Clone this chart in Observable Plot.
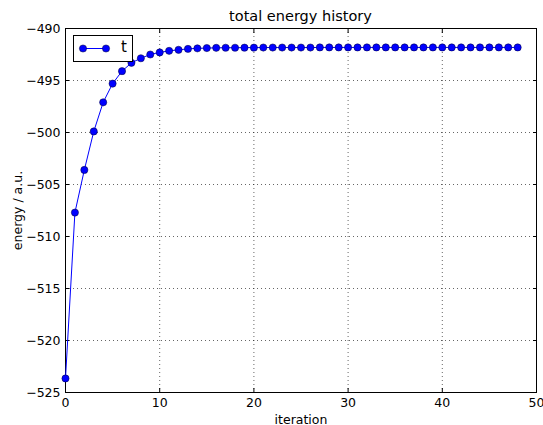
<!DOCTYPE html>
<html>
<head>
<meta charset="utf-8">
<script src="https://cdn.jsdelivr.net/npm/d3@7"></script>
<script src="https://cdn.jsdelivr.net/npm/@observablehq/plot@0.6"></script>
<style>
  html, body { margin: 0; padding: 0; background: #fff; }
  body { width: 543px; height: 425px; position: relative; overflow: hidden; font-family: "DejaVu Sans", sans-serif; }
  #title { position: absolute; left: 65px; width: 471px; top: 8px; text-align: center; font-size: 14.5px; color: #000; }
  #chart { position: absolute; left: 0; top: 20px; }
  #legend { position: absolute; left: 73px; top: 35px; width: 58px; height: 25px; border: 1px solid #000; background: #fff; box-sizing: content-box; }
  #legend svg { position: absolute; left: 0; top: 0; }
  #legend span { position: absolute; left: 47px; top: 2px; font-size: 15px; }
</style>
</head>
<body>
<div id="title">total energy history</div>
<div id="chart"></div>
<div id="legend">
  <svg width="40" height="25"><line x1="9" y1="12.5" x2="32" y2="12.5" stroke="#0000ff" stroke-width="1"/><circle cx="9" cy="12.5" r="3.6" fill="#0000ff" stroke="#000033" stroke-width="0.5"/><circle cx="32" cy="12.5" r="3.6" fill="#0000ff" stroke="#000033" stroke-width="0.5"/></svg>
  <span>t</span>
</div>
<script>
const iterations = d3.range(0, 49);
const energy = [
  -523.65, -507.7, -503.6, -499.9, -497.1, -495.3, -494.1, -493.3, -492.86, -492.5,
  -492.3, -492.15, -492.05, -491.96, -491.91, -491.88, -491.86, -491.85, -491.85, -491.84,
  -491.84, -491.83, -491.83, -491.83, -491.83, -491.83, -491.83, -491.82, -491.82, -491.82,
  -491.82, -491.82, -491.82, -491.82, -491.82, -491.82, -491.82, -491.82, -491.82, -491.82,
  -491.82, -491.82, -491.82, -491.82, -491.82, -491.82, -491.82, -491.82, -491.82
];
const xTicks = [0, 10, 20, 30, 40, 50];
const yTicks = [-525, -520, -515, -510, -505, -500, -495, -490];

const data = iterations.map((it, i) => ({iteration: it, energy: energy[i]}));
const blank = () => "";

const plot = Plot.plot({
  width: 543,
  height: 405,
  marginLeft: 65,
  marginRight: 7,
  marginTop: 8,
  marginBottom: 33,
  style: {fontFamily: "DejaVu Sans, sans-serif", fontSize: "12.5px", color: "#000", background: "transparent", overflow: "visible"},
  x: {domain: [0, 50]},
  y: {domain: [-525, -490]},
  marks: [
    Plot.gridX(xTicks.slice(1, -1), {stroke: "#000", strokeOpacity: 0.6, strokeDasharray: "1,3"}),
    Plot.gridY(yTicks.slice(1, -1), {stroke: "#000", strokeOpacity: 0.6, strokeDasharray: "1,3"}),
    Plot.axisX(xTicks, {anchor: "bottom", tickSize: -4, tickPadding: 10, label: "iteration", labelAnchor: "center", labelArrow: "none", labelOffset: 31, fontSize: 12.5}),
    Plot.axisX(xTicks, {anchor: "top", tickSize: -4, tickFormat: blank, label: null}),
    Plot.axisY(yTicks, {anchor: "left", tickSize: -4, tickPadding: 9, label: "energy / a.u.", labelAnchor: "center", labelArrow: "none", labelOffset: 52, fontSize: 12.5}),
    Plot.axisY(yTicks, {anchor: "right", tickSize: -4, tickFormat: blank, label: null}),
    Plot.frame({stroke: "#000", strokeWidth: 1}),
    Plot.line(data, {x: "iteration", y: "energy", stroke: "#0000ff", strokeWidth: 1}),
    Plot.dot(data, {x: "iteration", y: "energy", r: 3.6, fill: "#0000ff", stroke: "#000033", strokeWidth: 0.5})
  ]
});
document.getElementById("chart").appendChild(plot);
</script>
</body>
</html>
